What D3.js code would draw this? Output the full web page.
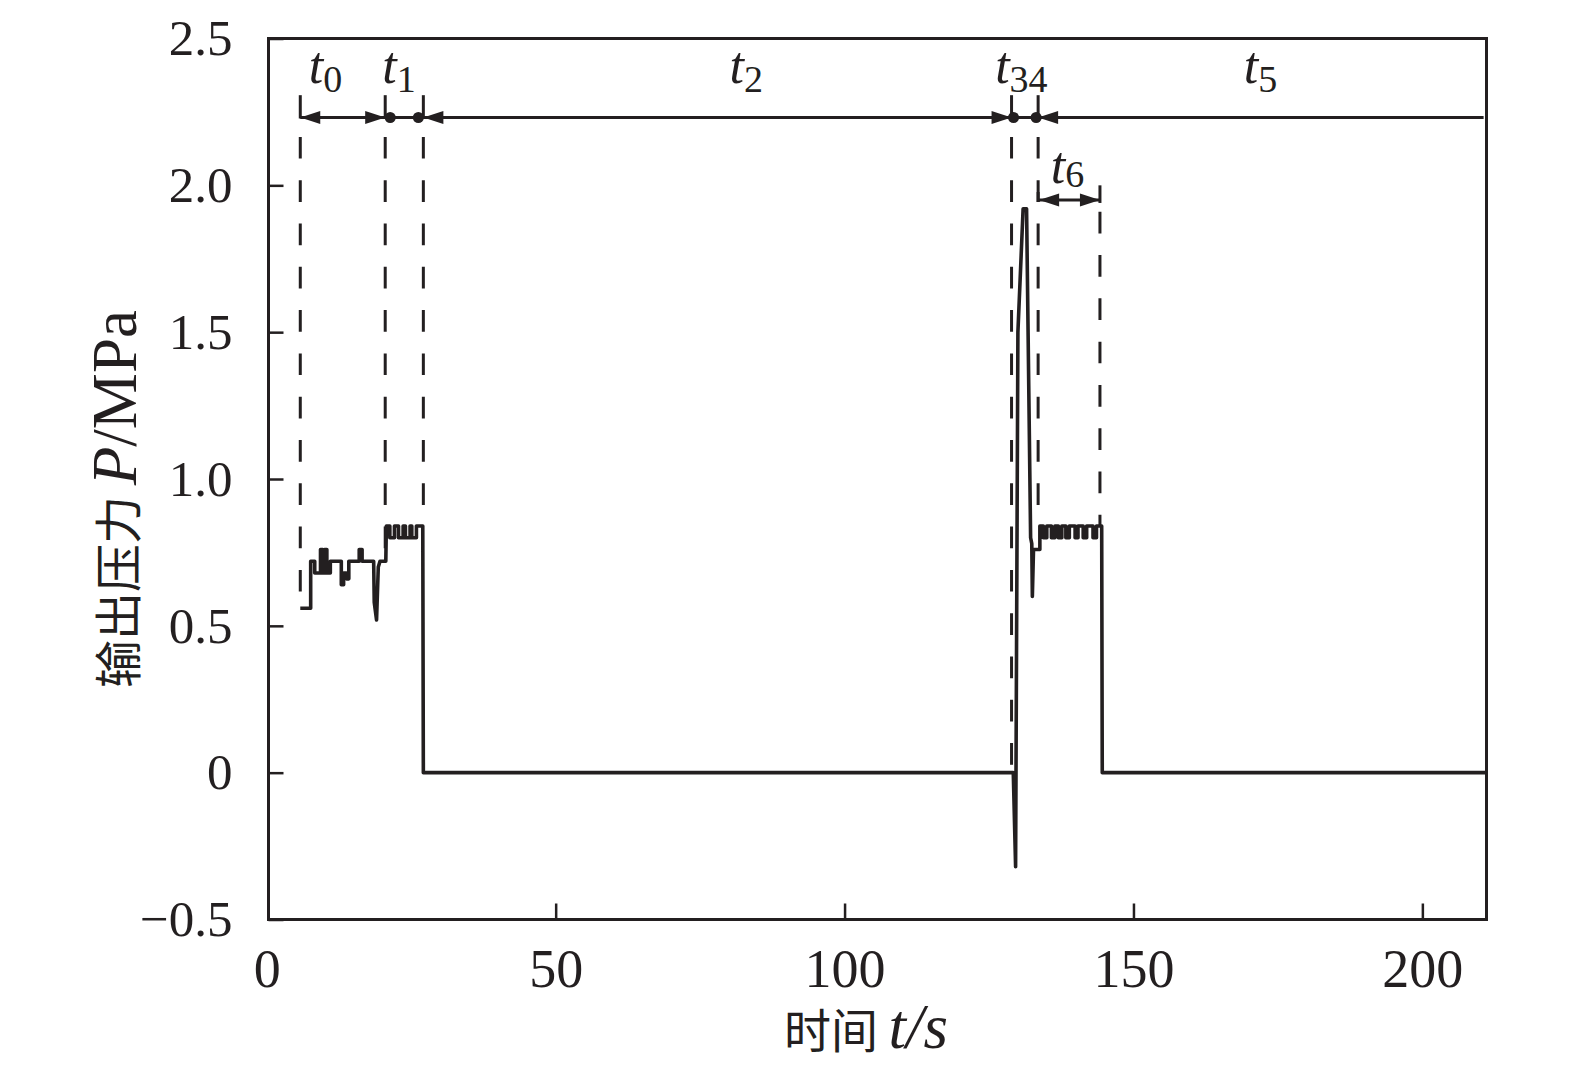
<!DOCTYPE html>
<html><head><meta charset="utf-8">
<script src="https://cdn.jsdelivr.net/npm/d3@7"></script>
<style>body{margin:0;background:#fff}</style>
</head><body>
<script>
// ---- data ----
const curveT = [5.8, 7.6, 7.6, 8.3, 8.3, 9.3, 9.3, 9.7, 9.7, 10.0, 10.0, 10.4, 10.4, 11.0, 11.0, 12.9, 12.9, 13.3, 13.3, 13.8, 13.8, 14.2, 14.2, 16.0, 16.0, 16.5, 16.5, 18.5, 18.6, 19.0, 19.3, 19.6, 20.6, 20.7, 21.3, 21.3, 22.1, 22.1, 22.8, 22.8, 23.6, 23.6, 24.0, 24.0, 24.8, 24.8, 25.1, 25.1, 25.9, 25.9, 27.0, 27.1, 129.2, 129.6, 130.0, 130.9, 131.5, 132.2, 132.4, 132.5, 132.7, 133.8, 133.8, 134.4, 134.4, 135.0, 135.0, 135.8, 135.8, 136.4, 136.4, 137.0, 137.0, 137.6, 137.6, 138.3, 138.3, 138.9, 138.9, 139.9, 139.9, 140.4, 140.4, 141.3, 141.3, 141.9, 141.9, 143.0, 143.0, 143.6, 143.6, 144.5, 144.6, 210.9];
const curveP = [0.56, 0.56, 0.72, 0.72, 0.68, 0.68, 0.76, 0.76, 0.68, 0.68, 0.76, 0.76, 0.68, 0.68, 0.72, 0.72, 0.64, 0.64, 0.68, 0.68, 0.66, 0.66, 0.72, 0.72, 0.76, 0.76, 0.72, 0.72, 0.58, 0.52, 0.70, 0.72, 0.72, 0.84, 0.84, 0.80, 0.80, 0.84, 0.84, 0.80, 0.80, 0.84, 0.84, 0.80, 0.80, 0.84, 0.84, 0.80, 0.80, 0.84, 0.84, 0.0, 0.0, -0.32, 1.50, 1.92, 1.92, 0.80, 0.78, 0.60, 0.76, 0.76, 0.84, 0.84, 0.80, 0.80, 0.84, 0.84, 0.80, 0.80, 0.84, 0.84, 0.80, 0.80, 0.84, 0.84, 0.80, 0.80, 0.84, 0.84, 0.80, 0.80, 0.84, 0.84, 0.80, 0.80, 0.84, 0.84, 0.80, 0.80, 0.84, 0.84, 0.0, 0.0];

const markerT = [5.8, 20.5, 27.1, 128.9, 133.5, 144.2];
const markerBottomP = [0.56, 0.72, 0.84, 0.0, 0.84, 0.84];
const spanSubs = ["0", "1", "2", "34", "5", "6"];
const spanLabelT = [10.15, 22.9, 83.0, 130.6, 172.0, 138.6];
const spanLabelP = [2.347, 2.347, 2.347, 2.347, 2.347, 2.007];
const xTicks = [0, 50, 100, 150, 200];
const yTicks = [-0.5, 0, 0.5, 1.0, 1.5, 2.0, 2.5];
const yTickLabels = ["\u22120.5", "0", "0.5", "1.0", "1.5", "2.0", "2.5"];
const xTitle = ["时间 ", "t/s"];
const yTitle = ["输出压力 ", "P", "/MPa"];

// annotation levels (data units)
const arrowP = 2.231, barTopP = 2.307, dashTopP = 2.165;
const t6ArrowP = 1.95, t6BarTopP = 2.0, t6BarBotP = 1.94, t6DashTopP = 1.91;
const topLineEndT = 210.6;

// ---- drawing ----
const W = 1575, H = 1091;
const ink = "#231f20";
const serif = "'Liberation Serif','Times New Roman',serif";
const cjk = "'Noto Sans CJK SC',sans-serif";
const svg = d3.select("body").append("svg").attr("width", W).attr("height", H);

const x = d3.scaleLinear().domain([0.3, 211.1]).range([268.5, 1486.5]);
const y = d3.scaleLinear().domain([-0.5, 2.5]).range([919.5, 38.5]);

// axes
const xAxis = d3.axisBottom(x).tickValues(xTicks).tickSizeInner(-16).tickSizeOuter(0).tickPadding(29).tickFormat(d3.format("d"));
const gx = svg.append("g").attr("transform", `translate(0,${y(-0.5)})`).call(xAxis);
const yAxis = d3.axisLeft(y).tickValues(yTicks).tickSizeInner(-15).tickSizeOuter(0).tickPadding(36).tickFormat((d, i) => yTickLabels[i]);
const gy = svg.append("g").attr("transform", `translate(${x(0.3)},0)`).call(yAxis);
[gx, gy].forEach(g => {
  g.select(".domain").remove();
  g.selectAll(".tick line").attr("stroke", ink).attr("stroke-width", 2.5);
  g.selectAll(".tick text").attr("fill", ink).style("font-family", serif);
});
gy.selectAll(".tick text").style("font-size", "51px");
gx.selectAll(".tick text").style("font-size", "54px");
gx.selectAll(".tick").filter(d => d === 0).select("line").remove();

// frame
svg.append("rect")
  .attr("x", x(0.3)).attr("y", y(2.5))
  .attr("width", x(211.1) - x(0.3)).attr("height", y(-0.5) - y(2.5))
  .attr("fill", "none").attr("stroke", ink).attr("stroke-width", 3);

// dashed marker lines
markerT.forEach((t, i) => {
  const top = i === 5 ? t6DashTopP : dashTopP;
  svg.append("line")
    .attr("x1", x(t)).attr("x2", x(t))
    .attr("y1", y(top)).attr("y2", y(markerBottomP[i]))
    .attr("stroke", ink).attr("stroke-width", 3)
    .attr("stroke-dasharray", "21.7,21.6");
});

// curve
const pts = curveT.map((t, i) => [t, curveP[i]]);
svg.append("path")
  .datum(pts)
  .attr("d", d3.line().x(d => x(d[0])).y(d => y(d[1])))
  .attr("fill", "none").attr("stroke", ink).attr("stroke-width", 3.6)
  .attr("stroke-linejoin", "round");

// top span line
svg.append("line")
  .attr("x1", x(markerT[0])).attr("x2", x(topLineEndT))
  .attr("y1", y(arrowP)).attr("y2", y(arrowP))
  .attr("stroke", ink).attr("stroke-width", 3);

// top bars
markerT.slice(0, 5).forEach(t => {
  svg.append("line")
    .attr("x1", x(t)).attr("x2", x(t))
    .attr("y1", y(barTopP)).attr("y2", y(arrowP) + 1)
    .attr("stroke", ink).attr("stroke-width", 3);
});

function arrowHead(px, py, dir) {
  const L = 20, hw = 6.5;
  svg.append("path")
    .attr("d", `M${px},${py} L${px - dir * L},${py - hw} L${px - dir * L},${py + hw} Z`)
    .attr("fill", ink);
}
function dot(px, py) {
  svg.append("circle").attr("cx", px).attr("cy", py).attr("r", 5.5).attr("fill", ink);
}
const ay = y(arrowP);
arrowHead(x(markerT[0]), ay, -1);
arrowHead(x(markerT[1]), ay, 1);
dot(x(markerT[1]) + 5, ay);
dot(x(markerT[2]) - 5, ay);
arrowHead(x(markerT[2]), ay, -1);
arrowHead(x(markerT[3]), ay, 1);
dot(x(markerT[3]) + 2, ay);
dot(x(markerT[4]) - 2, ay);
arrowHead(x(markerT[4]), ay, -1);

// t6 arrow
const a6 = y(t6ArrowP);
svg.append("line").attr("x1", x(markerT[4])).attr("x2", x(markerT[5]))
  .attr("y1", a6).attr("y2", a6).attr("stroke", ink).attr("stroke-width", 3);
svg.append("line").attr("x1", x(markerT[5])).attr("x2", x(markerT[5]))
  .attr("y1", y(t6BarTopP)).attr("y2", y(t6BarBotP)).attr("stroke", ink).attr("stroke-width", 3);
svg.append("line").attr("x1", x(markerT[4])).attr("x2", x(markerT[4]))
  .attr("y1", a6 - 8).attr("y2", a6 + 2).attr("stroke", ink).attr("stroke-width", 3);
arrowHead(x(markerT[4]) + 1, a6, -1);
arrowHead(x(markerT[5]), a6, 1);

// span labels
spanSubs.forEach((s, i) => {
  const txt = svg.append("text")
    .attr("x", x(spanLabelT[i])).attr("y", y(spanLabelP[i]))
    .attr("text-anchor", "middle").attr("fill", ink)
    .style("font-family", serif);
  txt.append("tspan").text("t").style("font-style", "italic").style("font-size", "52px");
  txt.append("tspan").text(s).attr("dy", i === 5 ? 4 : 9).style("font-size", "38px");
});

// x title
const xt = svg.append("text").attr("x", 866).attr("y", 1048)
  .attr("text-anchor", "middle").attr("fill", ink);
xt.append("tspan").text(xTitle[0]).style("font-family", cjk).style("font-size", "47px");
xt.append("tspan").text(xTitle[1]).style("font-family", serif).style("font-style", "italic").style("font-size", "63px");

// y title
const yt = svg.append("text")
  .attr("transform", `translate(136,${(y(-0.5) + y(2.5)) / 2 + 20}) rotate(-90)`)
  .attr("text-anchor", "middle").attr("fill", ink);
yt.append("tspan").text(yTitle[0]).style("font-family", cjk).style("font-size", "48px");
yt.append("tspan").text(yTitle[1]).style("font-family", serif).style("font-style", "italic").style("font-size", "63px");
yt.append("tspan").text(yTitle[2]).style("font-family", serif).style("font-size", "63px");
</script>
</body></html>
